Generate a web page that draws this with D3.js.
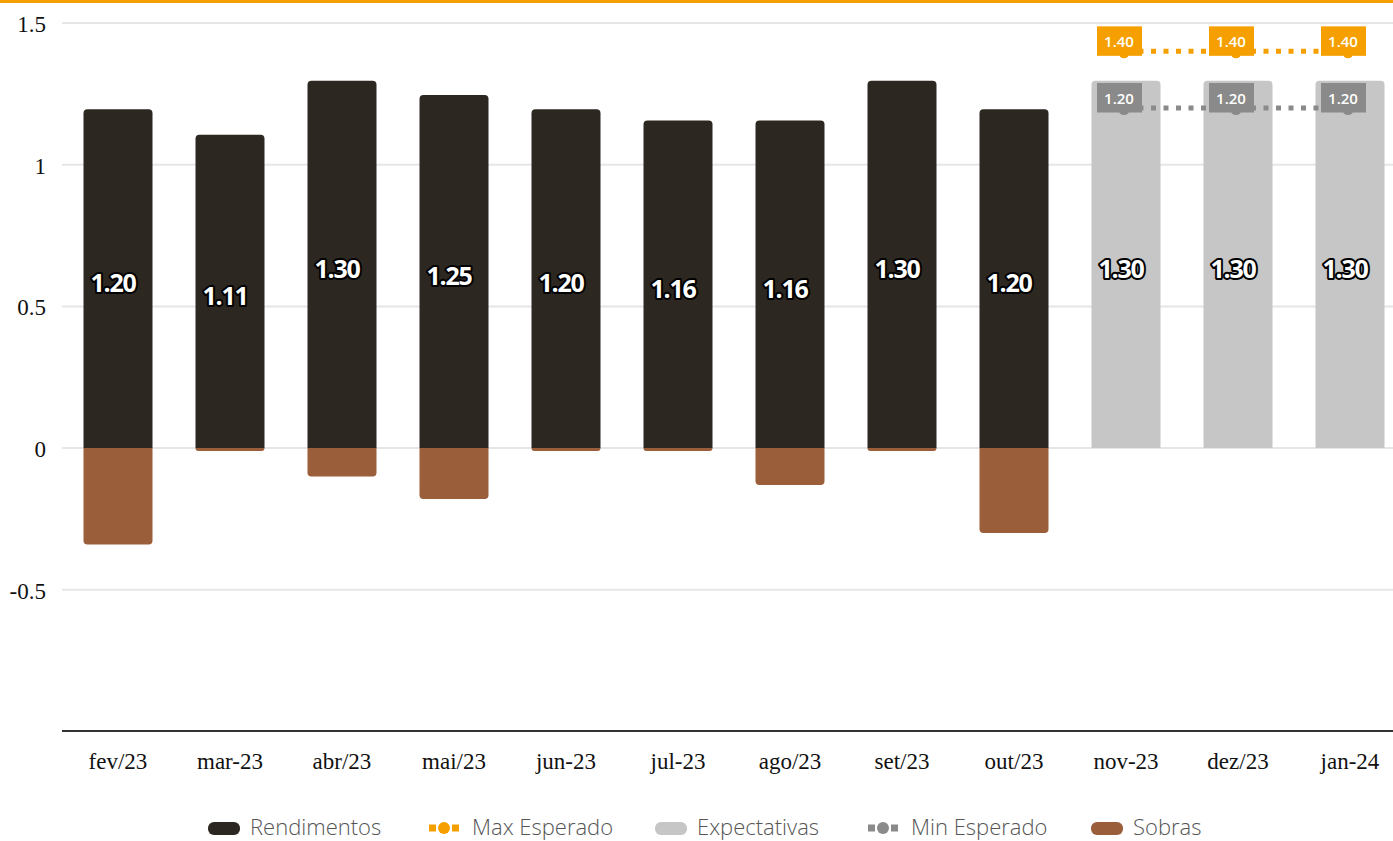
<html>
<head>
<script src="https://d3js.org/d3.v7.min.js"></script>
<style>
  body { margin: 0; background: #fff; }
  svg { display: block; }
</style>
</head>
<body>
<svg id="chart" width="1393" height="841"></svg>
<script>
// data
const months = ["fev/23", "mar-23", "abr/23", "mai/23", "jun-23", "jul-23", "ago/23", "set/23", "out/23", "nov-23", "dez/23", "jan-24"];
const rendimentos = [1.20, 1.11, 1.30, 1.25, 1.20, 1.16, 1.16, 1.30, 1.20, null, null, null];
const sobras = [-0.34, -0.01, -0.10, -0.18, -0.01, -0.01, -0.13, -0.01, -0.30, null, null, null];
const expectativas = [null, null, null, null, null, null, null, null, null, 1.30, 1.30, 1.30];
const maxEsperado = [null, null, null, null, null, null, null, null, null, 1.40, 1.40, 1.40];
const minEsperado = [null, null, null, null, null, null, null, null, null, 1.20, 1.20, 1.20];
const yTicks = [-0.5, 0, 0.5, 1, 1.5];
const yTickLabels = ["-0.5", "0", "0.5", "1", "1.5"];
const legendItems = ["Rendimentos", "Max Esperado", "Expectativas", "Min Esperado", "Sobras"];

const C = {
  rend: "#2c2721",
  sobra: "#9b5e3a",
  expect: "#c6c6c6",
  max: "#f5a000",
  min: "#8a8a8a"
};

const svg = d3.select("#chart");

// top orange rule
svg.append("rect").attr("x", 0).attr("y", 0).attr("width", 1393).attr("height", 3).attr("fill", C.max);

const x = d3.scaleBand().domain(months).range([62, 1406]).paddingInner(0.375).paddingOuter(0.1875);
const y = d3.scaleLinear().domain([-1, 1.5]).range([731.5, 23]);

// gridlines
svg.append("g").selectAll("line").data(yTicks).join("line")
  .attr("x1", 62).attr("x2", 1393)
  .attr("y1", d => y(d)).attr("y2", d => y(d))
  .attr("stroke", "#e6e6e6").attr("stroke-width", 2);

// y axis labels
svg.append("g").selectAll("text").data(yTicks).join("text")
  .attr("x", 46).attr("y", d => y(d) + 9)
  .attr("text-anchor", "end")
  .attr("font-family", "'Liberation Serif', serif").attr("font-size", 23).attr("fill", "#111")
  .text((d, i) => yTickLabels[i]);

// bar path, rounded on the far end only
function barPath(xl, w, v0, v1, r) {
  const y0 = y(v0), y1 = y(v1);
  const dir = y1 < y0 ? 1 : -1;
  const h = Math.abs(y1 - y0);
  r = Math.min(r, h, w / 2);
  const p = d3.path();
  p.moveTo(xl, y0);
  p.lineTo(xl, y1 + dir * r);
  p.quadraticCurveTo(xl, y1, xl + r, y1);
  p.lineTo(xl + w - r, y1);
  p.quadraticCurveTo(xl + w, y1, xl + w, y1 + dir * r);
  p.lineTo(xl + w, y0);
  p.closePath();
  return p.toString();
}

const bw = x.bandwidth();
const bars = svg.append("g");
bars.selectAll("path.rend").data(months.filter((m, i) => rendimentos[i] != null)).join("path")
  .attr("class", "rend")
  .attr("d", m => barPath(x(m) + 0.5, bw - 1, 0, rendimentos[months.indexOf(m)] - 0.004, 4)).attr("fill", C.rend);
bars.selectAll("path.sob").data(months.filter((m, i) => sobras[i] != null)).join("path")
  .attr("class", "sob")
  .attr("d", m => barPath(x(m) + 0.5, bw - 1, 0, sobras[months.indexOf(m)], 4)).attr("fill", C.sobra);
bars.selectAll("path.exp").data(months.filter((m, i) => expectativas[i] != null)).join("path")
  .attr("class", "exp")
  .attr("d", m => barPath(x(m) + 0.5, bw - 1, 0, expectativas[months.indexOf(m)] - 0.004, 4)).attr("fill", C.expect);

// bar value labels
function barLabels(vals) {
  svg.append("g").selectAll("text").data(months.filter((m, i) => vals[i] != null)).join("text")
    .attr("x", m => x(m) + bw / 2 - 5)
    .attr("y", m => y(vals[months.indexOf(m)] / 2) + 14)
    .attr("text-anchor", "middle")
    .attr("font-family", "'Open Sans', sans-serif").attr("font-weight", 700).attr("font-size", 25)
    .attr("letter-spacing", -1.2)
    .attr("fill", "#fff").attr("stroke", "#000").attr("stroke-width", 4).attr("stroke-linejoin", "round")
    .attr("paint-order", "stroke")
    .text(m => vals[months.indexOf(m)].toFixed(2));
}
barLabels(rendimentos);
barLabels(expectativas);

// dotted lines with callout labels
function dotLine(vals, color) {
  const pts = months.map((m, i) => [m, vals[i]]).filter(d => d[1] != null);
  const g = svg.append("g");
  g.append("path")
    .attr("d", d3.line().x(d => x(d[0]) + bw / 2).y(d => y(d[1]))(pts))
    .attr("fill", "none").attr("stroke", color).attr("stroke-width", 5).attr("stroke-dasharray", "5,7.5");
  const lab = g.selectAll("g").data(pts).join("g")
    .attr("transform", d => `translate(${x(d[0]) + bw / 2},${y(d[1])})`);
  lab.append("circle").attr("cx", -2).attr("cy", 1.5).attr("r", 5.5).attr("fill", color);
  lab.append("rect").attr("x", -29).attr("y", -25).attr("width", 45).attr("height", 29.5).attr("fill", color);
  lab.append("text").attr("x", -7).attr("y", -4).attr("text-anchor", "middle")
    .attr("font-family", "'Open Sans', sans-serif").attr("font-weight", 600).attr("font-size", 15)
    .attr("fill", "#fff").text(d => d[1].toFixed(2));
}
dotLine(minEsperado, C.min);
dotLine(maxEsperado, C.max);

// x axis
svg.append("line").attr("x1", 62).attr("x2", 1393).attr("y1", 731).attr("y2", 731)
  .attr("stroke", "#333").attr("stroke-width", 2);
svg.append("g").selectAll("text").data(months).join("text")
  .attr("x", m => x(m) + bw / 2).attr("y", 769)
  .attr("text-anchor", "middle")
  .attr("font-family", "'Liberation Serif', serif").attr("font-size", 23).attr("fill", "#111")
  .text(m => m);

// legend
const legX = [208, 429, 655, 868, 1091];
const legColors = [C.rend, C.max, C.expect, C.min, C.sobra];
const leg = svg.append("g").selectAll("g").data(legendItems).join("g")
  .attr("transform", (d, i) => `translate(${legX[i]},828)`);
leg.each(function (d, i) {
  const g = d3.select(this);
  if (i === 1 || i === 3) {
    g.append("rect").attr("x", 0).attr("y", -3.5).attr("width", 7).attr("height", 7).attr("fill", legColors[i]);
    g.append("rect").attr("x", 23).attr("y", -3.5).attr("width", 7).attr("height", 7).attr("fill", legColors[i]);
    g.append("circle").attr("cx", 15).attr("cy", 0).attr("r", 6).attr("fill", legColors[i]);
  } else {
    g.append("rect").attr("x", 0).attr("y", -6).attr("width", 32).attr("height", 13).attr("rx", 6)
      .attr("fill", legColors[i]);
  }
  g.append("text").attr("x", (i === 1 || i === 3) ? 43 : 42).attr("y", 7)
    .attr("font-family", "'Open Sans', sans-serif").attr("font-weight", 300).attr("font-size", 22)
    .attr("fill", "#555").text(d);
});
</script>
</body>
</html>
